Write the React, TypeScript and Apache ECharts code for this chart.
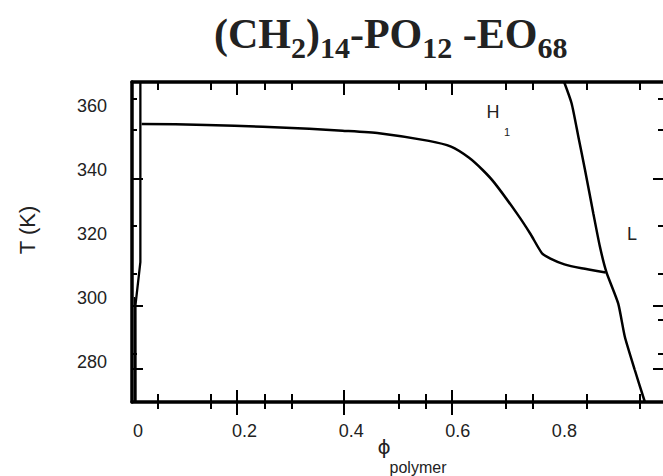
import React, { useEffect, useRef } from "react";
import * as echarts from "echarts";

// ---- axis ranges (phi_polymer, T in K) ----
const X_MIN = -0.0112;
const X_MAX = 0.985;
const Y_MIN = 267.5;
const Y_MAX = 367.5;

// ---- tick labels ----
const X_LABELS = [0, 0.2, 0.4, 0.6, 0.8];
const Y_LABELS = [280, 300, 320, 340, 360];

// ---- tick positions (as drawn in the figure) ----
const X_TICKS_SHORT = [0.0366, 0.1374, 0.2374, 0.2879, 0.4897, 0.5402, 0.6897, 0.7402, 0.8411, 0.9411];
const X_TICKS_LONG = [0.1862, 0.3869, 0.5895];
const Y_TICKS_SHORT_LEFT = [362.2, 352.5, 322.5, 307.5, 282.5];
const Y_TICKS_SHORT_RIGHT = [362.2, 352.5, 322.5, 307.5, 293.1, 282.5];
const Y_TICKS_LONG = [337.2, 297.5, 277.8];

// ---- phase boundaries ----
// boundary next to phi = 0
const phiLeft = [0.0045, 0.0045, -0.0047, -0.0045];
const tLeft = [367.5, 311.2, 297.8, 267.5];
const phiLeft2 = [-0.0065, -0.0065];
const tLeft2 = [300.3, 267.5];

// H1 boundary
const phiH1 = [0.0069, 0.1284, 0.2342, 0.3215, 0.3837, 0.4523, 0.5458, 0.5873, 0.6206, 0.6467, 0.6692, 0.7131, 0.7364, 0.7579, 0.7738, 0.8, 0.8323, 0.8776];
const tH1 = [354.4, 354.1, 353.5, 352.9, 352.3, 351.5, 349.1, 347.3, 343.9, 340.0, 335.9, 325.9, 320.0, 314.0, 312.3, 310.5, 309.3, 308.0];

// L boundary
const phiL = [0.7995, 0.8136, 0.8262, 0.8387, 0.8542, 0.8667, 0.879, 0.9009, 0.9134, 0.9321, 0.951];
const tL = [367.5, 360.8, 350.4, 340.0, 326.5, 316.0, 308.0, 298.3, 287.9, 277.5, 267.5];

const zip = (xs: number[], ys: number[]) => xs.map((x, i) => [x, ys[i]]);

const SANS = "'Liberation Sans', Arial, Helvetica, sans-serif";
const SERIF = "'Liberation Serif', 'Times New Roman', serif";
const INK = "#000";
const TEXT = "#222";

function xAxisDef(position: string, values: number[], length: number, inside: boolean, showLine: boolean, labels: boolean) {
  return {
    type: "value",
    position,
    min: X_MIN,
    max: X_MAX,
    gridIndex: 0,
    splitLine: { show: false },
    axisLine: { show: showLine, onZero: false, lineStyle: { color: INK, width: 3.5 } },
    axisTick: { show: true, inside, length, customValues: values, lineStyle: { color: INK, width: 2 } },
    axisLabel: labels
      ? { show: true, customValues: X_LABELS, margin: 20, color: TEXT, fontSize: 18, fontFamily: SANS, formatter: (v: number) => String(v) }
      : { show: false },
  };
}

function yAxisDef(position: string, values: number[], length: number, showLine: boolean, labels: boolean) {
  return {
    type: "value",
    position,
    min: Y_MIN,
    max: Y_MAX,
    gridIndex: 0,
    splitLine: { show: false },
    axisLine: { show: showLine, onZero: false, lineStyle: { color: INK, width: 3.5 } },
    axisTick: { show: true, inside: true, length, customValues: values, lineStyle: { color: INK, width: 2 } },
    axisLabel: labels
      ? { show: true, customValues: Y_LABELS, margin: 25, color: TEXT, fontSize: 18, fontFamily: SANS, formatter: (v: number) => String(v) }
      : { show: false },
  };
}

function lineSeries(data: number[][], width: number, smooth: number | boolean) {
  return {
    type: "line",
    data,
    xAxisIndex: 0,
    yAxisIndex: 0,
    showSymbol: false,
    symbol: "none",
    smooth,
    lineStyle: { color: INK, width },
    emphasis: { disabled: true },
  };
}

export default function App() {
  const ref = useRef<HTMLDivElement>(null);
  useEffect(() => {
    if (!ref.current) return;
    const chart = echarts.init(ref.current, null, { renderer: "svg" });
    chart.setOption({
      animation: false,
      backgroundColor: "#fff",
      title: {
        text: "{m|(CH}{s|2}{m|)}{s|14}{m|-PO}{s|12}{m| -EO}{s|68}",
        left: 214,
        top: 13,
        padding: 0,
        textStyle: {
          fontFamily: SERIF,
          fontWeight: "bold",
          fontSize: 42,
          color: TEXT,
          rich: {
            m: { fontFamily: SERIF, fontWeight: "bold", fontSize: 42, lineHeight: 46, verticalAlign: "top", color: TEXT },
            s: { fontFamily: SERIF, fontWeight: "bold", fontSize: 30, lineHeight: 30, verticalAlign: "top", padding: [19, 0, 0, 0], color: TEXT },
          },
        },
      },
      grid: { left: 132, top: 82, right: -2, bottom: 74, containLabel: false },
      xAxis: [
        xAxisDef("bottom", X_TICKS_SHORT, 7, false, true, true),
        xAxisDef("bottom", X_TICKS_LONG, 13, false, false, false),
        xAxisDef("bottom", X_TICKS_SHORT, 8, true, false, false),
        xAxisDef("bottom", X_TICKS_LONG, 12, true, false, false),
        xAxisDef("top", X_TICKS_SHORT, 8, true, true, false),
        xAxisDef("top", X_TICKS_LONG, 13, true, false, false),
      ],
      yAxis: [
        yAxisDef("left", Y_TICKS_SHORT_LEFT, 5, true, true),
        yAxisDef("left", Y_TICKS_LONG, 11, false, false),
        yAxisDef("right", Y_TICKS_SHORT_RIGHT, 5, false, false),
        yAxisDef("right", Y_TICKS_LONG, 10, false, false),
      ],
      series: [
        lineSeries(zip(phiLeft, tLeft), 2.3, false),
        lineSeries(zip(phiLeft2, tLeft2), 1.3, false),
        lineSeries(zip(phiH1, tH1), 2.5, 0.2),
        lineSeries(zip(phiL, tL), 2.5, 0.2),
      ],
      graphic: [
        { type: "text", x: 493, y: 112, style: { text: "H", fontSize: 18, fontFamily: SANS, fill: TEXT, align: "center", verticalAlign: "middle" } },
        { type: "text", x: 507, y: 132, style: { text: "1", fontSize: 11, fontFamily: SANS, fill: TEXT, align: "center", verticalAlign: "middle" } },
        { type: "text", x: 632, y: 234, style: { text: "L", fontSize: 18, fontFamily: SANS, fill: TEXT, align: "center", verticalAlign: "middle" } },
        { type: "text", x: 384, y: 447, style: { text: "ϕ", fontSize: 20, fontFamily: "'DejaVu Sans', " + SANS, fill: TEXT, align: "center", verticalAlign: "middle" } },
        { type: "text", x: 418, y: 467, style: { text: "polymer", fontSize: 16, fontFamily: SANS, fill: TEXT, align: "center", verticalAlign: "middle" } },
        { type: "text", x: 27, y: 230, rotation: Math.PI / 2, style: { text: "T (K)", fontSize: 22, fontFamily: SANS, fill: TEXT, align: "center", verticalAlign: "middle" } },
      ],
    });
    return () => chart.dispose();
  }, []);
  return <div ref={ref} style={{ position: "fixed", left: 0, top: 0, width: 663, height: 476, background: "#fff" }} />;
}
